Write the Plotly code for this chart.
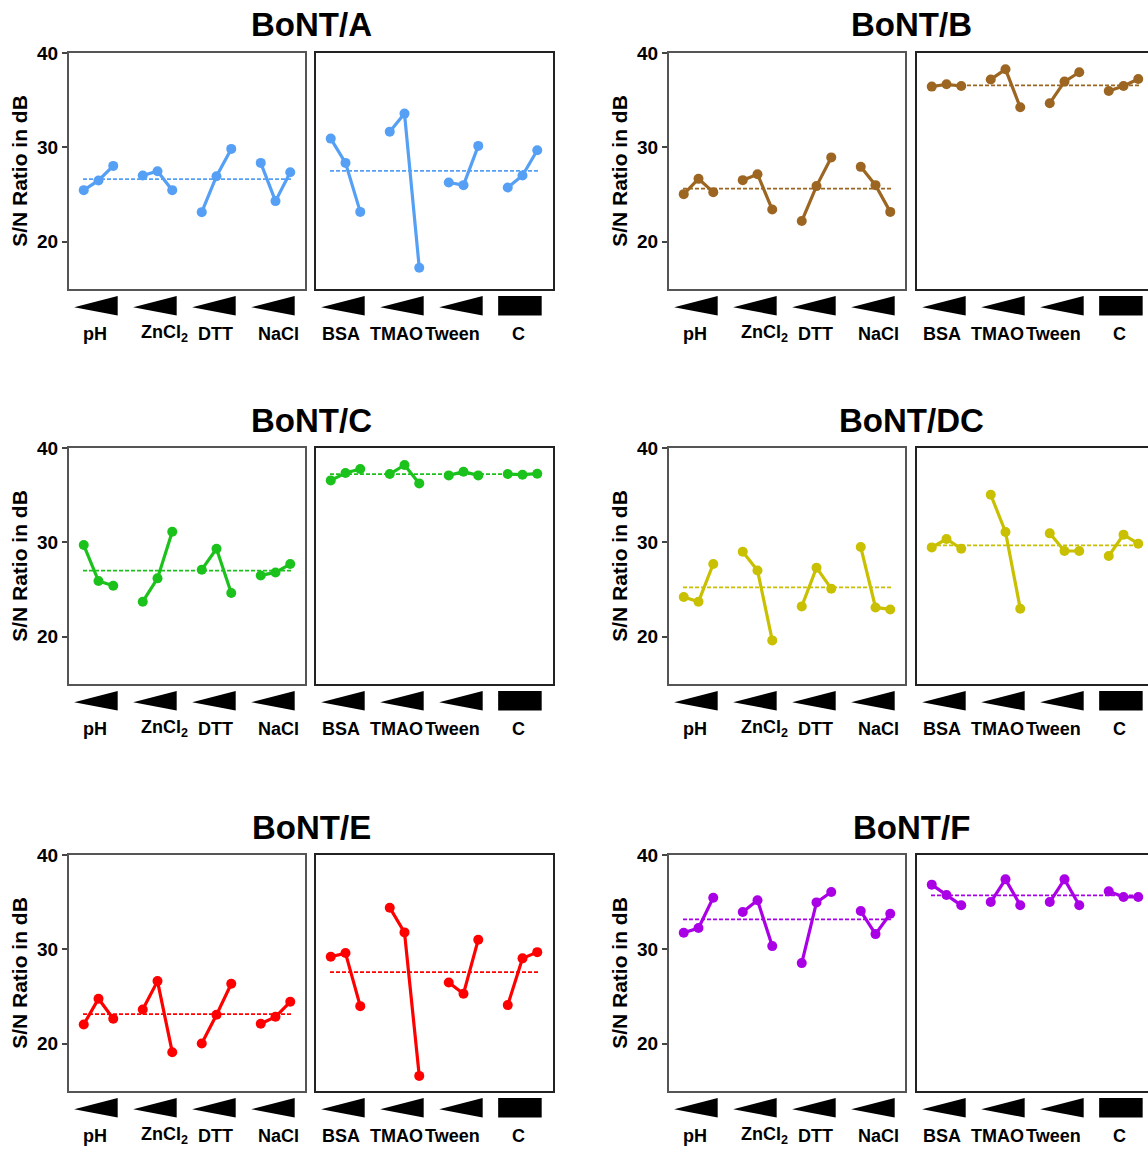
import plotly.graph_objects as go

W, H = 1148, 1149

# ---------------- data ----------------
panel_titles = ["BoNT/A", "BoNT/B", "BoNT/C", "BoNT/DC", "BoNT/E", "BoNT/F"]
left_groups = ["pH", "ZnCl<sub>2</sub>", "DTT", "NaCl"]
right_groups = ["BSA", "TMAO", "Tween", "C"]
positions = [1, 2, 3, 5, 6, 7, 9, 10, 11, 13, 14, 15]
y_ticks = [20, 30, 40]

A_left = [25.47, 26.50, 28.04, 27.02, 27.48, 25.47, 23.14, 26.95, 29.84, 28.36, 24.31, 27.37]
A_right = [30.93, 28.36, 23.17, 31.67, 33.58, 17.25, 26.28, 26.00, 30.16, 25.75, 27.02, 29.70]
B_left = [25.05, 26.67, 25.26, 26.53, 27.16, 23.42, 22.20, 25.90, 28.94, 27.94, 26.00, 23.17]
B_right = [36.44, 36.69, 36.50, 37.20, 38.27, 34.25, 34.68, 36.97, 37.96, 35.98, 36.50, 37.25]
C_left = [29.72, 25.91, 25.41, 23.72, 26.19, 31.13, 27.11, 29.33, 24.64, 26.50, 26.82, 27.71]
C_right = [36.57, 37.35, 37.78, 37.24, 38.20, 36.25, 37.10, 37.49, 37.10, 37.24, 37.17, 37.28]
DC_left = [24.21, 23.72, 27.71, 29.01, 27.03, 19.62, 23.22, 27.32, 25.10, 29.51, 23.11, 22.90]
DC_right = [29.47, 30.36, 29.33, 35.05, 31.10, 22.98, 30.96, 29.09, 29.09, 28.56, 30.82, 29.86]
E_left = [22.05, 24.77, 22.65, 23.64, 26.64, 19.11, 20.03, 23.07, 26.36, 22.12, 22.86, 24.45]
E_right = [29.22, 29.61, 23.99, 34.42, 31.80, 16.60, 26.50, 25.30, 31.03, 24.10, 29.05, 29.71]
F_left = [31.77, 32.26, 35.48, 33.96, 35.20, 30.35, 28.55, 34.98, 36.08, 34.06, 31.62, 33.78]
F_right = [36.86, 35.76, 34.67, 35.02, 37.42, 34.67, 35.02, 37.42, 34.67, 36.15, 35.55, 35.55]

mean_left = [26.63, 25.64, 27.00, 25.24, 23.14, 33.18]
mean_right = [27.51, 36.58, 37.24, 29.68, 27.60, 35.73]

panels_left = [A_left, B_left, C_left, DC_left, E_left, F_left]
panels_right = [A_right, B_right, C_right, DC_right, E_right, F_right]
colors = ["#55a0f5", "#9c6622", "#1cc21c", "#c8c000", "#ff0000", "#aa00e6"]

# ---------------- layout geometry (pixels) ----------------
row_tops = [53, 448, 855]
box_h = 236
col_boxes = [[(69, 305), (316, 553)], [(669, 905), (917, 1154)]]
unit_px = 236 / 16.0
# small horizontal nudges of the group labels (x-axis units), as placed in the original
label_nudge_left = [-0.03, 0.68, 0.10, 0.37]
label_nudge_right = [-0.16, -0.37, -0.57, -0.10]

FONT = "Liberation Sans, Arial, sans-serif"

fig = go.Figure()
layout = dict(width=W, height=H, autosize=False,
              margin=dict(l=0, r=0, t=0, b=0, pad=0, autoexpand=False),
              paper_bgcolor="white", plot_bgcolor="white", showlegend=False)
shapes = []
annotations = []


def gapped(vals):
    xs, ys = [], []
    for g in range(4):
        xs += positions[3 * g:3 * g + 3] + [None]
        ys += vals[3 * g:3 * g + 3] + [None]
    return xs, ys


for p in range(6):
    row, col = p // 2, p % 2
    top = row_tops[row]
    bot = top + box_h
    ydom = [1 - bot / H, 1 - top / H]
    for side in range(2):
        idx = 2 * p + side + 1
        x0, x1 = col_boxes[col][side]
        x1c = min(x1, W)
        xmax = (x1c - x0) / unit_px
        xdom = [x0 / W, x1c / W]
        sx = "" if idx == 1 else str(idx)
        vals = panels_left[p] if side == 0 else panels_right[p]
        mval = mean_left[p] if side == 0 else mean_right[p]
        groups = left_groups if side == 0 else right_groups
        nudges = label_nudge_left if side == 0 else label_nudge_right
        lc = "#555555" if side == 0 else "#222222"
        lw = 2 if side == 0 else 1.5
        clipped = (col == 1 and side == 1)

        layout["xaxis" + sx] = dict(domain=xdom, range=[0, xmax], anchor="y" + sx,
                                     showline=True, linecolor=lc, linewidth=lw, mirror=True,
                                     showgrid=False, zeroline=False, showticklabels=False,
                                     ticks="", fixedrange=True, automargin=False)
        yax = dict(domain=ydom, range=[15, 40], anchor="x" + sx,
                   showline=True, linecolor=lc, linewidth=lw, mirror=(not clipped),
                   showgrid=False, zeroline=False, fixedrange=True, automargin=False)
        if side == 0:
            yax.update(tickvals=y_ticks, ticks="outside", ticklen=5, tickwidth=1.5,
                       tickcolor="#444444",
                       tickfont=dict(family=FONT, size=19, color="black", weight="bold"),
                       title=dict(text="S/N Ratio in dB", standoff=4,
                                  font=dict(family=FONT, size=21, color="black", weight="bold")))
        else:
            yax.update(showticklabels=False, ticks="")
        layout["yaxis" + sx] = yax

        # mean dashed line
        fig.add_trace(go.Scatter(x=[positions[0] - 0.05, positions[-1] + 0.05], y=[mval, mval],
                                 mode="lines", xaxis="x" + sx, yaxis="y" + sx,
                                 line=dict(color=colors[p], width=1.8, dash="4px,2px"),
                                 hoverinfo="skip"))
        xs, ys = gapped(vals)
        fig.add_trace(go.Scatter(x=xs, y=ys, mode="lines+markers", xaxis="x" + sx, yaxis="y" + sx,
                                 line=dict(color=colors[p], width=3.2),
                                 marker=dict(color=colors[p], size=10),
                                 connectgaps=False))

        # wedges / rectangle and group labels
        for g in range(4):
            gx0 = 4 * g + 0.35
            gx1 = 4 * g + 3.3
            if side == 1 and g == 3:
                shapes.append(dict(type="rect", xref="x" + sx, yref="y" + sx + " domain",
                                   x0=gx0, x1=gx1, y0=-0.112, y1=-0.03,
                                   fillcolor="black", line=dict(width=0)))
            else:
                path = "M {a},{tip} L {b},{t} L {b},{bt} Z".format(a=gx0, b=gx1, tip=-0.077,
                                                                     t=-0.03, bt=-0.112)
                shapes.append(dict(type="path", xref="x" + sx, yref="y" + sx + " domain",
                                   path=path, fillcolor="black", line=dict(width=0)))
            annotations.append(dict(text=groups[g], xref="x" + sx, yref="y" + sx + " domain",
                                    x=(gx0 + gx1) / 2 + nudges[g], y=-0.19, showarrow=False,
                                    xanchor="center", yanchor="middle",
                                    font=dict(family=FONT, size=18, color="black", weight="bold")))

    # panel title
    cx = (col_boxes[col][0][0] + col_boxes[col][1][1]) / 2.0
    annotations.append(dict(text=panel_titles[p], xref="paper", yref="paper",
                            x=cx / W, y=1 - (top - 28) / H, showarrow=False,
                            xanchor="center", yanchor="middle",
                            font=dict(family=FONT, size=33, color="black", weight="bold")))

layout["shapes"] = shapes
layout["annotations"] = annotations
fig.update_layout(**layout)
fig.write_html("out.html", config={"displayModeBar": False},
               post_script="document.body.style.margin='0';document.body.style.overflow='hidden';")
